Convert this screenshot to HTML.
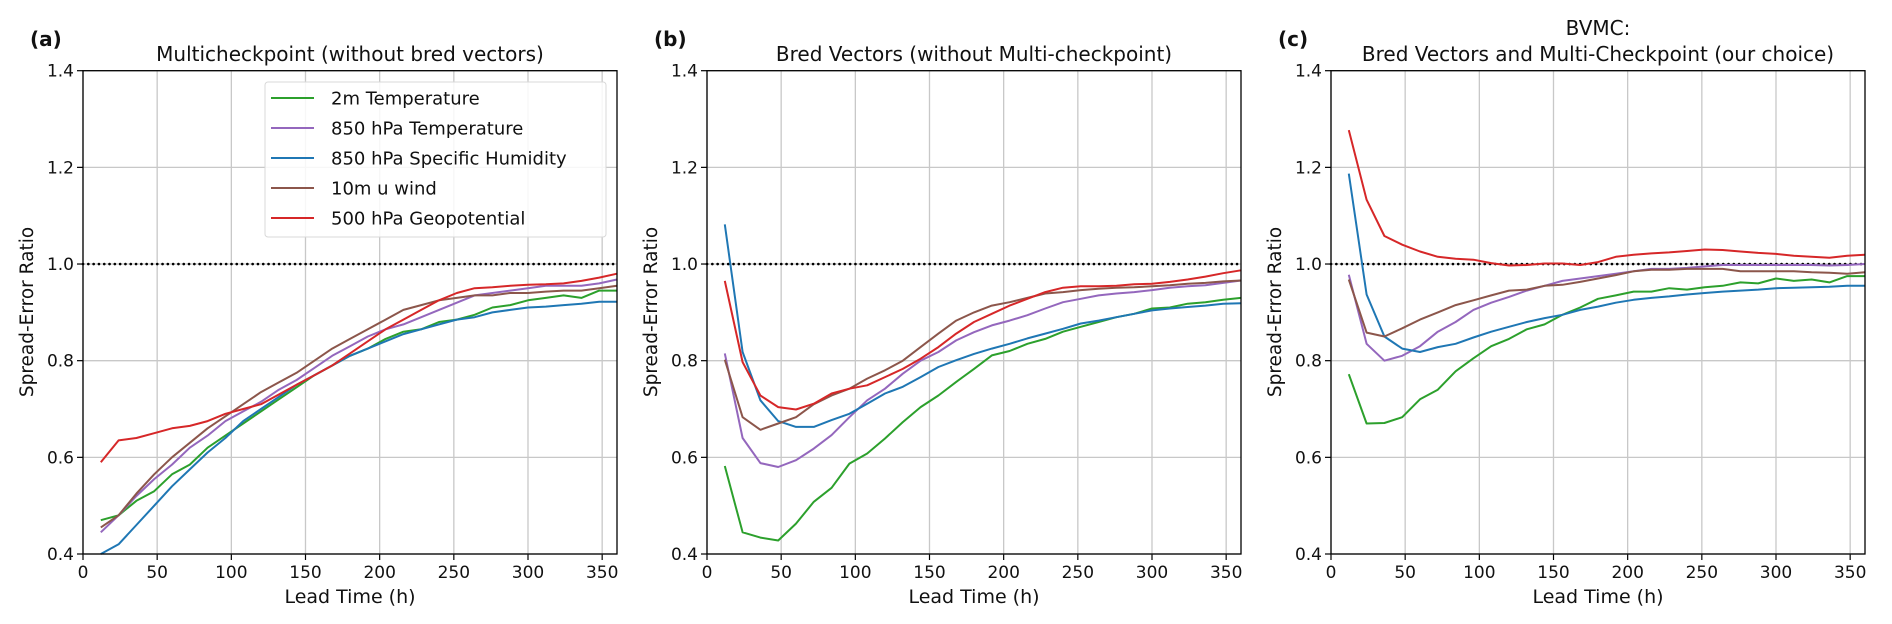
<!DOCTYPE html>
<html><head><meta charset="utf-8"><style>
body{margin:0;background:#fff}
svg{display:block;font-family:"DejaVu Sans","Liberation Sans",sans-serif}
</style></head><body>
<svg id="fig" width="1892" height="624" viewBox="0 0 1892 624" xmlns="http://www.w3.org/2000/svg"></svg>
<script>
const leadTimes=[12,24,36,48,60,72,84,96,108,120,132,144,156,168,180,192,204,216,228,240,252,264,276,288,300,312,324,336,348,360];
const seriesNames=["2m Temperature","850 hPa Temperature","850 hPa Specific Humidity","10m u wind","500 hPa Geopotential"];
const seriesColors=["#2ca02c","#9467bd","#1f77b4","#8c564b","#d62728"];
const yTicks=[0.4,0.6,0.8,1.0,1.2,1.4];
const yTickLabels=["0.4","0.6","0.8","1.0","1.2","1.4"];
const xTicks=[0,50,100,150,200,250,300,350];
const xTickLabels=["0","50","100","150","200","250","300","350"];
const panelLetters=["(a)","(b)","(c)"];
const panelTitles=[["Multicheckpoint (without bred vectors)"],["Bred Vectors (without Multi-checkpoint)"],["BVMC:","Bred Vectors and Multi-Checkpoint (our choice)"]];
// Panel (a)
const a_t2m=[0.47,0.48,0.51,0.53,0.565,0.585,0.62,0.645,0.67,0.695,0.72,0.745,0.77,0.79,0.81,0.825,0.845,0.86,0.865,0.88,0.885,0.895,0.91,0.915,0.925,0.93,0.935,0.93,0.945,0.945];
const a_t850=[0.445,0.48,0.52,0.555,0.585,0.62,0.645,0.675,0.695,0.715,0.74,0.76,0.785,0.81,0.83,0.85,0.865,0.875,0.89,0.905,0.92,0.935,0.94,0.945,0.95,0.955,0.955,0.955,0.96,0.968];
const a_q850=[0.40,0.42,0.46,0.50,0.54,0.575,0.61,0.64,0.675,0.70,0.725,0.75,0.77,0.79,0.81,0.825,0.84,0.855,0.865,0.875,0.885,0.89,0.90,0.905,0.91,0.912,0.915,0.918,0.922,0.922];
const a_u10=[0.455,0.48,0.525,0.565,0.60,0.63,0.66,0.685,0.71,0.735,0.755,0.775,0.80,0.825,0.845,0.865,0.885,0.905,0.915,0.925,0.93,0.935,0.935,0.94,0.94,0.943,0.945,0.945,0.95,0.955];
const a_z500=[0.59,0.635,0.64,0.65,0.66,0.665,0.675,0.69,0.70,0.71,0.73,0.75,0.77,0.79,0.815,0.84,0.865,0.885,0.905,0.925,0.94,0.95,0.952,0.955,0.957,0.958,0.96,0.965,0.972,0.98];
// Panel (b)
const b_t2m=[0.582,0.445,0.434,0.428,0.463,0.508,0.537,0.587,0.608,0.639,0.673,0.704,0.728,0.756,0.783,0.811,0.82,0.835,0.845,0.86,0.87,0.88,0.89,0.897,0.908,0.91,0.918,0.921,0.926,0.93];
const b_t850=[0.815,0.64,0.588,0.58,0.594,0.618,0.646,0.683,0.718,0.742,0.773,0.80,0.818,0.842,0.859,0.873,0.883,0.894,0.908,0.921,0.928,0.935,0.939,0.942,0.946,0.951,0.954,0.956,0.961,0.966];
const b_q850=[1.082,0.818,0.718,0.675,0.663,0.663,0.677,0.69,0.711,0.732,0.746,0.766,0.787,0.801,0.814,0.825,0.835,0.846,0.856,0.866,0.877,0.883,0.89,0.897,0.904,0.908,0.911,0.914,0.918,0.919];
const b_u10=[0.802,0.683,0.657,0.67,0.683,0.71,0.728,0.742,0.763,0.78,0.80,0.828,0.856,0.883,0.90,0.914,0.921,0.93,0.939,0.942,0.946,0.949,0.951,0.952,0.954,0.956,0.959,0.961,0.964,0.966];
const b_z500=[0.965,0.797,0.728,0.704,0.699,0.711,0.732,0.742,0.749,0.766,0.783,0.804,0.828,0.856,0.88,0.897,0.914,0.928,0.942,0.951,0.954,0.954,0.955,0.958,0.959,0.963,0.968,0.974,0.981,0.987];
// Panel (c)
const c_t2m=[0.772,0.67,0.671,0.683,0.72,0.74,0.778,0.805,0.83,0.845,0.865,0.875,0.895,0.91,0.928,0.935,0.943,0.943,0.95,0.947,0.952,0.955,0.962,0.96,0.97,0.965,0.968,0.962,0.975,0.975];
const c_t850=[0.978,0.835,0.80,0.81,0.83,0.86,0.88,0.905,0.92,0.932,0.945,0.955,0.965,0.97,0.975,0.98,0.985,0.99,0.99,0.992,0.995,0.998,0.998,0.998,0.998,0.998,0.998,0.997,0.998,1.0];
const c_q850=[1.187,0.937,0.85,0.825,0.818,0.828,0.835,0.848,0.86,0.87,0.88,0.888,0.895,0.905,0.912,0.92,0.926,0.93,0.933,0.937,0.94,0.943,0.945,0.947,0.95,0.951,0.952,0.953,0.955,0.955];
const c_u10=[0.968,0.858,0.85,0.867,0.885,0.90,0.915,0.925,0.935,0.945,0.947,0.955,0.957,0.963,0.97,0.977,0.985,0.988,0.988,0.99,0.99,0.99,0.985,0.985,0.985,0.985,0.983,0.982,0.98,0.983];
const c_z500=[1.277,1.133,1.058,1.04,1.026,1.015,1.011,1.009,1.002,0.997,0.998,1.001,1.001,0.998,1.004,1.015,1.019,1.022,1.024,1.027,1.03,1.029,1.026,1.023,1.021,1.017,1.015,1.013,1.017,1.019];

const panelSeries=[[a_t2m,a_t850,a_q850,a_u10,a_z500],[b_t2m,b_t850,b_q850,b_u10,b_z500],[c_t2m,c_t850,c_q850,c_u10,c_z500]];
const NS="http://www.w3.org/2000/svg";
const svg=document.getElementById('fig');
function mk(tag,attrs,parent,text){const e=document.createElementNS(NS,tag);for(const k in attrs)e.setAttribute(k,attrs[k]);if(text!==undefined)e.textContent=text;(parent||svg).appendChild(e);return e;}
const PL=[83,707,1331],PW=534,PT=70.7,PB=554;
for(let p=0;p<3;p++){
  const L=PL[p];
  const xs=v=>L+v/360*PW;
  const ys=v=>PB-(v-0.4)/1.0*(PB-PT);
  const g=mk('g',{});
  
  
  xTicks.forEach((t,i)=>{
    const gl=mk('line',{x1:xs(t),x2:xs(t),y1:PT,y2:PB,stroke:'#c8c8c8','stroke-width':1.3},g);
    
    
    const tk=mk('line',{x1:xs(t),x2:xs(t),y1:PB,y2:PB+6,stroke:'#000','stroke-width':1.2},g);
    
    
    const tl=mk('text',{x:xs(t),y:PB+24,'text-anchor':'middle','font-size':17,fill:'#111'},g,xTickLabels[i]);
    
    
  });
  yTicks.forEach((t,i)=>{
    const gl=mk('line',{x1:L,x2:L+PW,y1:ys(t),y2:ys(t),stroke:'#c8c8c8','stroke-width':1.3},g);
    
    
    const tk=mk('line',{x1:L-6,x2:L,y1:ys(t),y2:ys(t),stroke:'#000','stroke-width':1.2},g);
    
    
    const tl=mk('text',{x:L-9,y:ys(t)+6,'text-anchor':'end','font-size':17,fill:'#111'},g,yTickLabels[i]);
    
    
  });
  const ref=mk('line',{x1:L,x2:L+PW,y1:ys(1.0),y2:ys(1.0),stroke:'#000','stroke-width':2.6,'stroke-dasharray':'0.1 5.2','stroke-linecap':'round'},g);
  
  
  panelSeries[p].forEach((vals,si)=>{
    const d=vals.map((v,i)=>(i?'L':'M')+xs(leadTimes[i]).toFixed(1)+','+ys(v).toFixed(1)).join('');
    const pl=mk('path',{d:d,fill:'none',stroke:seriesColors[si],'stroke-width':2,'stroke-linejoin':'round'},g);
    
    
  });
  const fr=mk('rect',{x:L,y:PT,width:PW,height:PB-PT,fill:'none',stroke:'#000','stroke-width':1.3},g);
  
  
  const xl=mk('text',{x:L+PW/2,y:603,'text-anchor':'middle','font-size':19,fill:'#111'},g,'Lead Time (h)');
  
  
  const yl=mk('text',{x:0,y:0,transform:'translate('+(L-50)+','+312+') rotate(-90)','text-anchor':'middle','font-size':18.5,fill:'#111'},g,'Spread-Error Ratio');
  
  
  const lt=mk('text',{x:L-53,y:46,'font-size':20,'font-weight':'bold',fill:'#111'},g,panelLetters[p]);
  
  
  const tl=panelTitles[p];
  tl.forEach((line,li)=>{
    const yy=tl.length===2?(li===0?35:61):61;
    const t=mk('text',{x:L+PW/2,y:yy,'text-anchor':'middle','font-size':20,fill:'#111'},g,line);
    
    
  });
  if(p===0){
    const lg=mk('g',{},g);
    
    
    mk('rect',{x:265,y:82,width:341,height:155,rx:3,fill:'#fff','fill-opacity':0.85,stroke:'#d8d8d8','stroke-width':1},lg);
    seriesNames.forEach((n,si)=>{
      const yy=98+si*30;
      const e=mk('g',{},lg);
      
      
      mk('line',{x1:271,x2:314,y1:yy,y2:yy,stroke:seriesColors[si],'stroke-width':2},e);
      mk('text',{x:331,y:yy+6.5,'font-size':18,fill:'#111'},e,n);
    });
  }
}
</script>
</body></html>
